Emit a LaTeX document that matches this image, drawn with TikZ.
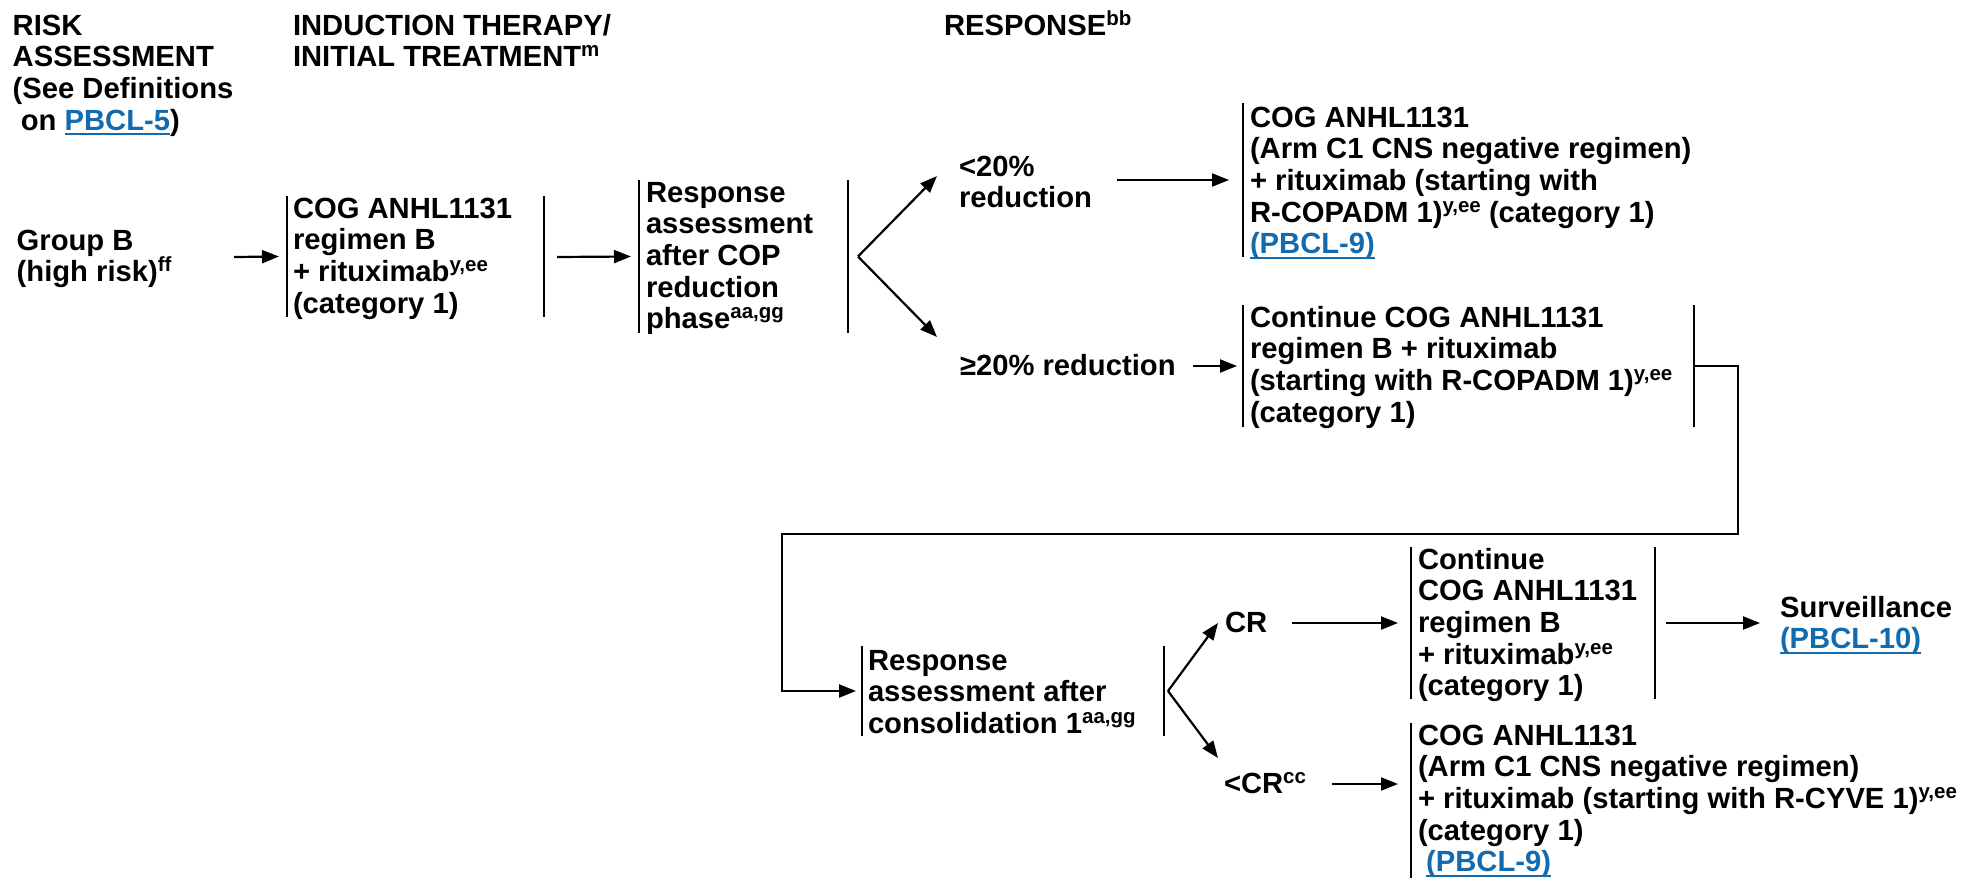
\documentclass[tikz,border=0pt]{standalone}
\usepackage{fontspec}
\setmainfont{Liberation Sans}
\usetikzlibrary{arrows.meta}
\definecolor{linkblue}{RGB}{18,106,175}
\newcommand\sups[1]{\smash{\raisebox{10pt}{\fontsize{20.5pt}{20.5pt}\selectfont #1}}}
\newcommand\lnk[1]{\textcolor{linkblue}{\setbox0\hbox{#1}\rlap{\rule[-5pt]{\wd0}{1.8pt}}\box0}}
\newcommand\blk[1]{\begin{tabular}[t]{@{}l@{}}#1\end{tabular}}
\tikzset{
  txt/.style={anchor=base west, inner sep=0pt, outer sep=0pt,
    font=\fontsize{29.2pt}{31.7pt}\selectfont\bfseries},
  frame/.style={inner sep=0pt, outer sep=0pt, draw=none},
  bar/.style={line width=2.8pt},
  arr/.style={line width=2.2pt, -{Triangle[length=17pt,width=13pt]}},
}
\begin{document}
\begin{tikzpicture}[x=1pt,y=-1pt]
\useasboundingbox (0,0) rectangle (1967,878);
% headers
\node[txt] (risk) at (12.7,35) {\blk{RISK\\ASSESSMENT\\(See Definitions\\\hspace*{0.28em}on \lnk{PBCL-5})}};
\node[txt] (induct) at (293,35) {\blk{INDUCTION THERAPY/\\INITIAL TREATMENT\sups{m}}};
\node[txt] (resp) at (944,35) {RESPONSE\sups{bb}};
% text blocks
\node[txt] (grpB) at (16.7,250) {\blk{Group B\\(high risk)\sups{ff}}};
\node[txt] (t1) at (293,218) {\blk{COG ANHL1131\\regimen B\\+ rituximab\sups{y,ee}\\(category 1)}};
\node[txt] (t2) at (646,202) {\blk{Response\\assessment\\after COP\\reduction\\phase\sups{aa,gg}}};
\node[txt] (lt20) at (959,176) {\blk{<20\%\\reduction}};
\node[txt] (ge20) at (960,375) {≥20\% reduction};
\node[txt] (t3) at (1250,127) {\blk{COG ANHL1131\\(Arm C1 CNS negative regimen)\\+ rituximab (starting with\\R-COPADM 1)\sups{y,ee} (category 1)\\\lnk{(PBCL-9)}}};
\node[txt] (t4) at (1250,327) {\blk{Continue COG ANHL1131\\regimen B + rituximab\\(starting with R-COPADM 1)\sups{y,ee}\\(category 1)}};
\node[txt] (t5) at (868,670) {\blk{Response\\assessment after\\consolidation 1\sups{aa,gg}}};
\node[txt] (cr) at (1225,632) {CR};
\node[txt] (ltcr) at (1224,793) {<CR\sups{cc}};
\node[txt] (t6) at (1418,569) {\blk{Continue\\COG ANHL1131\\regimen B\\+ rituximab\sups{y,ee}\\(category 1)}};
\node[txt] (surv) at (1780,617) {\blk{Surveillance\\\lnk{(PBCL-10)}}};
\node[txt] (t7) at (1418,745) {\blk{COG ANHL1131\\(Arm C1 CNS negative regimen)\\+ rituximab (starting with R-CYVE 1)\sups{y,ee}\\(category 1)\\\hspace*{0.28em}\lnk{(PBCL-9)}}};
% frames
\node[frame, minimum width=257pt, minimum height=121pt] (B1) at (415.5,256.5) {};
\node[frame, minimum width=209pt, minimum height=153pt] (B2) at (743.5,256.5) {};
\node[frame, minimum width=450pt, minimum height=154pt] (B3) at (1468,180) {};
\node[frame, minimum width=451pt, minimum height=122pt] (B4) at (1468.5,366) {};
\node[frame, minimum width=302pt, minimum height=90pt] (B5) at (1013,691) {};
\node[frame, minimum width=244pt, minimum height=152pt] (B6) at (1533,623) {};
\node[frame, minimum width=554pt, minimum height=155pt] (B7) at (1688,800.5) {};
% bars
\draw[bar] (B1.north west) -- (B1.south west);
\draw[bar] (B1.north east) -- (B1.south east);
\draw[bar] (B2.north west) -- (B2.south west);
\draw[bar] (B2.north east) -- (B2.south east);
\draw[bar] (B3.north west) -- (B3.south west);
\draw[bar] (B4.north west) -- (B4.south west);
\draw[bar] (B4.north east) -- (B4.south east);
\draw[bar] (B5.north west) -- (B5.south west);
\draw[bar] (B5.north east) -- (B5.south east);
\draw[bar] (B6.north west) -- (B6.south west);
\draw[bar] (B6.north east) -- (B6.south east);
\draw[bar] (B7.north west) -- (B7.south west);
% connector points
\coordinate (a1s) at (234,257);
\coordinate (a2s) at (557,257);
\coordinate (apex1) at ([xshift=10pt]B2.east);
\coordinate (tu1) at (937,176);
\coordinate (td1) at (937,337);
\coordinate (a3s) at (1117,180);
\coordinate (a4s) at (1193,366);
\coordinate (c1) at (1738,366);
\coordinate (c2) at (782,534);
\coordinate (apex2) at ([xshift=4pt]B5.east);
\coordinate (tu2) at (1218,623);
\coordinate (td2) at (1218,758);
\coordinate (a6s) at (1292,623);
\coordinate (a7s) at (1332,784);
\coordinate (a7e) at (1398,784);
\coordinate (a8s) at ([xshift=11pt]B6.east);
\coordinate (a8e) at (1760,623);
% connectors
\draw[arr] (a1s) -- ([xshift=-8pt]B1.west);
\draw[arr] (a2s) -- ([xshift=-8pt]B2.west);
\draw[arr] (apex1) -- (tu1);
\draw[arr] (apex1) -- (td1);
\draw[arr] (a3s) -- ([xshift=-14pt]B3.west);
\draw[arr] (a4s) -- ([xshift=-6pt]B4.west);
\draw[arr] (B4.east) -- (c1) |- (c2) |- ([xshift=-6pt]B5.west);
\draw[arr] (apex2) -- (tu2);
\draw[arr] (apex2) -- (td2);
\draw[arr] (a6s) -- ([xshift=-13pt]B6.west);
\draw[arr] (a7s) -- (a7e);
\draw[arr] (a8s) -- (a8e);
\end{tikzpicture}
\end{document}
